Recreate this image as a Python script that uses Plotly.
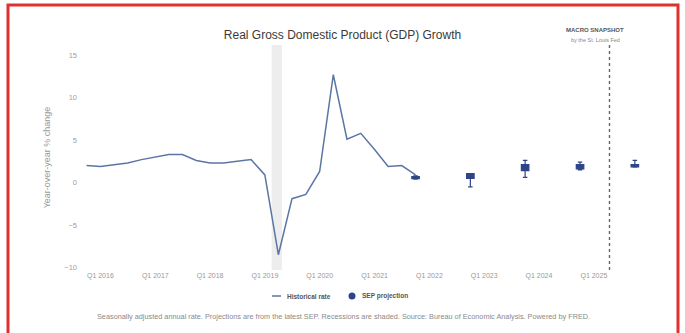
import plotly.graph_objects as go

# Historical year-over-year real GDP growth, quarterly
hist_dates = [
    "2015-10-01", "2016-01-01", "2016-04-01", "2016-07-01", "2016-10-01",
    "2017-01-01", "2017-04-01", "2017-07-01", "2017-10-01",
    "2018-01-01", "2018-04-01", "2018-07-01", "2018-10-01",
    "2019-01-01", "2019-04-01", "2019-07-01", "2019-10-01",
    "2020-01-01", "2020-04-01", "2020-07-01", "2020-10-01",
    "2021-01-01", "2021-04-01", "2021-07-01", "2021-10-01",
]
hist_values = [
    2.0, 1.9, 2.1, 2.3, 2.7,
    3.0, 3.3, 3.3, 2.6,
    2.3, 2.3, 2.5, 2.7,
    0.9, -8.5, -1.9, -1.4,
    1.3, 12.7, 5.1, 5.8,
    3.9, 1.9, 2.0, 0.9,
]

# SEP projections: range (fences) and central tendency (box)
sep_dates = ["2021-10-01", "2022-10-01", "2023-10-01", "2024-10-01", "2025-10-01"]
sep_low = [0.4, -0.5, 0.6, 1.5, 1.8]
sep_q1 = [0.45, 0.5, 1.4, 1.6, 1.85]
sep_median = [0.6, 0.8, 1.8, 1.9, 2.0]
sep_q3 = [0.7, 1.05, 2.1, 2.1, 2.1]
sep_high = [0.8, 1.05, 2.6, 2.4, 2.6]

tick_dates = ["2016-01-01", "2017-01-01", "2018-01-01", "2019-01-01", "2020-01-01",
              "2021-01-01", "2022-01-01", "2023-01-01", "2024-01-01", "2025-01-01"]
tick_labels = ["Q1 2016", "Q1 2017", "Q1 2018", "Q1 2019", "Q1 2020",
               "Q1 2021", "Q1 2022", "Q1 2023", "Q1 2024", "Q1 2025"]

recession = ("2019-02-15", "2019-04-25")
longer_run_divider = "2025-04-15"

LINE_COLOR = "#5b76a5"
SEP_COLOR = "#2f4589"
FONT = "Liberation Sans, Arial, sans-serif"

fig = go.Figure()

fig.add_trace(go.Scatter(
    x=hist_dates, y=hist_values, mode="lines", name="Historical rate",
    line=dict(color=LINE_COLOR, width=1.5), showlegend=False,
))

fig.add_trace(go.Box(
    x=sep_dates, q1=sep_q1, median=sep_median, q3=sep_q3,
    lowerfence=sep_low, upperfence=sep_high,
    fillcolor=SEP_COLOR, line=dict(color=SEP_COLOR, width=1.2),
    width=50 * 86400000, whiskerwidth=0.6, showlegend=False,
    name="SEP projection",
))

fig.add_vrect(x0=recession[0], x1=recession[1], fillcolor="rgba(210,210,210,0.4)",
              line_width=0, layer="below")
fig.add_shape(type="line", xref="x", yref="paper", x0=longer_run_divider,
              x1=longer_run_divider, y0=0, y1=1,
              line=dict(color="#666666", width=1.4, dash="dot"))

# Legend, drawn as a compact key under the axis (paper coordinates)
def px_x(p):
    return (p - 78) / 572

def px_y(p):
    return (270 - p) / 225

fig.add_shape(type="line", xref="paper", yref="paper",
              x0=px_x(272), x1=px_x(281), y0=px_y(296), y1=px_y(296),
              line=dict(color=LINE_COLOR, width=1.5))
fig.add_annotation(text="<b>Historical rate</b>", xref="paper", yref="paper",
                   x=px_x(285), y=px_y(296), xanchor="left", yanchor="middle",
                   showarrow=False, font=dict(size=6.5, color="#555555"))
fig.add_shape(type="circle", xref="paper", yref="paper",
              x0=px_x(348.5), x1=px_x(355.5), y0=px_y(299.5), y1=px_y(292.5),
              fillcolor=SEP_COLOR, line=dict(color=SEP_COLOR, width=0))
fig.add_annotation(text="<b>SEP projection</b>", xref="paper", yref="paper",
                   x=px_x(360), y=px_y(296), xanchor="left", yanchor="middle",
                   showarrow=False, font=dict(size=6.5, color="#555555"))

# Outer red frame
fig.add_shape(type="rect", xref="paper", yref="paper",
              x0=px_x(8), x1=px_x(678), y0=px_y(345), y1=px_y(5),
              line=dict(color="#e0312f", width=3))

fig.update_layout(
    width=685, height=333,
    margin=dict(l=78, r=35, t=45, b=63),
    paper_bgcolor="white", plot_bgcolor="white",
    font=dict(family=FONT, color="#666666"),
    title=dict(text="Real Gross Domestic Product (GDP) Growth",
               x=0.5, xref="container", xanchor="center", y=0.895, yanchor="middle",
               font=dict(size=12, color="#3a3a3a", family=FONT)),
    showlegend=False,
    xaxis=dict(
        type="date", range=["2015-08-05", "2026-01-10"],
        tickvals=tick_dates, ticktext=tick_labels,
        tickfont=dict(size=7, color="#999999"),
        showgrid=False, zeroline=False, showline=False, ticks="",
    ),
    yaxis=dict(
        range=[-10.3, 16.2], tickvals=[-10, -5, 0, 5, 10, 15],
        tickfont=dict(size=7.5, color="#a0a0a0"),
        title=dict(text="Year-over-year % change", font=dict(size=9, color="#999999"),
                   standoff=12),
        showgrid=False, zeroline=False, showline=False, ticks="",
    ),
)

fig.add_annotation(text="<b>MACRO SNAPSHOT</b>", xref="paper", yref="paper",
                   x=px_x(595), y=px_y(30), xanchor="center", yanchor="middle",
                   showarrow=False, font=dict(size=6, color="#555555"))
fig.add_annotation(text="by the St. Louis Fed", xref="paper", yref="paper",
                   x=px_x(595), y=px_y(40), xanchor="center", yanchor="middle",
                   showarrow=False, font=dict(size=5.5, color="#888888"))
fig.add_annotation(
    text="Seasonally adjusted annual rate. Projections are from the latest SEP. "
         "Recessions are shaded. Source: Bureau of Economic Analysis. Powered by FRED.",
    xref="paper", yref="paper", x=px_x(343.5), y=px_y(316), xanchor="center",
    yanchor="middle", showarrow=False,
    font=dict(size=7.3, color="#8a8a8a"))

fig.write_html("out.html")
